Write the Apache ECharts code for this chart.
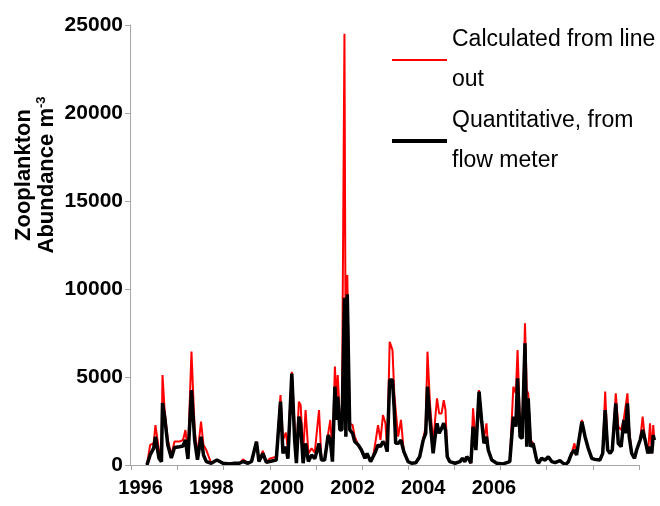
<!DOCTYPE html>
<html>
<head>
<meta charset="utf-8">
<script src="https://cdn.jsdelivr.net/npm/echarts@6/dist/echarts.min.js"></script>
<style>
  html, body { margin: 0; padding: 0; background: #fff; }
  #chart { width: 660px; height: 506px; }
</style>
</head>
<body>
<div id="chart"></div>
<script>
// sample dates (decimal years, as placed against the axis labels)
var years = [
  1996.18, 1996.27, 1996.37, 1996.42, 1996.52, 1996.59, 1996.62, 1996.68, 1996.77, 1996.87,
  1996.96, 1997.10, 1997.20, 1997.27, 1997.34, 1997.44, 1997.53, 1997.61, 1997.71, 1997.78,
  1997.86, 1998.00, 1998.16, 1998.33, 1998.52, 1998.66, 1998.80, 1998.90, 1999.04, 1999.14,
  1999.28, 1999.35, 1999.46, 1999.56, 1999.65, 1999.84, 1999.96, 2000.03, 2000.11, 2000.17,
  2000.28, 2000.36, 2000.41, 2000.48, 2000.53, 2000.60, 2000.67, 2000.75, 2000.84, 2000.93,
  2001.05, 2001.12, 2001.21, 2001.31, 2001.37, 2001.43, 2001.50, 2001.54, 2001.58, 2001.64,
  2001.70, 2001.77, 2001.81, 2001.85, 2001.92, 2002.00, 2002.06, 2002.16, 2002.25, 2002.35,
  2002.41, 2002.51, 2002.58, 2002.65, 2002.72, 2002.79, 2002.86, 2002.93, 2002.98, 2003.05,
  2003.13, 2003.18, 2003.22, 2003.29, 2003.37, 2003.45, 2003.57, 2003.67, 2003.79, 2003.90,
  2004.00, 2004.07, 2004.12, 2004.19, 2004.28, 2004.36, 2004.39, 2004.45, 2004.52, 2004.58,
  2004.63, 2004.68, 2004.75, 2004.90, 2005.04, 2005.11, 2005.18, 2005.23, 2005.30, 2005.35,
  2005.41, 2005.49, 2005.58, 2005.65, 2005.72, 2005.79, 2005.84, 2005.94, 2006.08, 2006.26,
  2006.45, 2006.55, 2006.62, 2006.67, 2006.74, 2006.80, 2006.88, 2006.93, 2006.97, 2007.04,
  2007.11, 2007.21, 2007.26, 2007.35, 2007.45, 2007.54, 2007.64, 2007.73, 2007.87, 2007.96,
  2008.03, 2008.11, 2008.20, 2008.28, 2008.34, 2008.49, 2008.58, 2008.67, 2008.77, 2008.86,
  2009.00, 2009.08, 2009.15, 2009.22, 2009.29, 2009.35, 2009.45, 2009.52, 2009.60, 2009.68,
  2009.73, 2009.78, 2009.83, 2009.90, 2009.98, 2010.04, 2010.14, 2010.21, 2010.28, 2010.36,
  2010.42, 2010.47, 2010.51, 2010.54
];

// Calculated from line out
var lineOut = [
  0, 1140, 1230, 2270, 850, 570, 5110, 3125, 1420, 570,
  1330, 1330, 1420, 1990, 570, 6440, 1990, 570, 2460, 1140,
  850, 100, 280, 100, 100, 100, 100, 320, 100, 200,
  1330, 200, 810, 150, 360, 470, 3980, 1420, 1840, 910,
  5300, 2180, 470, 3600, 3410, 660, 3125, 660, 945, 700,
  3125, 280, 280, 1800, 2560, 660, 5590, 3690, 5110, 2560,
  3000, 24500, 2500, 10800, 2370, 2270, 1610, 1140, 850, 380,
  660, 190, 470, 1330, 2270, 1420, 2840, 2370, 760, 7000,
  6530, 4070, 3125, 1610, 2560, 760, 190, 100, 130, 470,
  1510, 2180, 6440, 3500, 1230, 3125, 3790, 2930, 2930, 3690,
  3125, 470, 190, 100, 190, 380, 190, 470, 300, 100,
  3220, 1230, 4260, 2750, 1500, 2370, 850, 280, 100, 60,
  190, 4450, 4070, 6530, 2200, 1510, 8050, 4260, 4070, 1420,
  1230, 280, 100, 380, 280, 470, 190, 130, 245, 100,
  30, 190, 660, 1230, 570, 2560, 1610, 950, 380, 320,
  280, 660, 4170, 850, 660, 850, 4070, 2180, 1990, 2650,
  2560, 4070, 1990, 660, 380, 850, 1420, 2750, 1420, 660,
  2370, 660, 2270, 1420
];

// Quantitative, from flow meter
var flowMeter = [
  0, 570, 960, 1610, 390, 190, 3520, 2740, 1140, 400,
  1000, 1040, 1080, 1420, 340, 4260, 1420, 300, 1610, 570,
  190, 100, 280, 100, 60, 100, 100, 200, 100, 200,
  1330, 200, 660, 150, 200, 280, 3600, 660, 1040, 360,
  5200, 1420, 100, 2750, 2370, 100, 1230, 200, 570, 360,
  1230, 280, 280, 1700, 1420, 190, 4450, 2560, 3880, 1990,
  2000, 9500, 1600, 9700, 1990, 1800, 1330, 1140, 850, 380,
  660, 190, 470, 760, 1140, 1040, 1330, 1140, 760, 4830,
  4830, 3125, 1230, 1230, 1420, 760, 190, 100, 130, 470,
  1420, 1800, 4450, 2560, 660, 1990, 2370, 1800, 2080, 2370,
  1990, 470, 190, 100, 190, 380, 190, 470, 300, 100,
  2180, 850, 4170, 2560, 1230, 1610, 850, 280, 100, 60,
  190, 2750, 2180, 4920, 1610, 1510, 6910, 1040, 3790, 1040,
  1230, 280, 100, 380, 280, 470, 190, 130, 245, 100,
  30, 190, 660, 850, 570, 2460, 1610, 950, 380, 320,
  280, 660, 3125, 850, 660, 850, 3500, 1230, 1040, 2560,
  1800, 3500, 1610, 660, 380, 850, 1420, 1990, 1420, 660,
  1040, 660, 1700, 1420
];

var seriesNames = ['Calculated from line\nout', 'Quantitative, from\nflow meter'];
var xLabelYears = [1996, 1998, 2000, 2002, 2004, 2006];
var xTickYears = [1995.74, 1997.05, 1998.35, 1999.66, 2000.96, 2002.27, 2003.58, 2004.88, 2006.19, 2007.49, 2008.80, 2010.11];
var xAxisStart = 1995.70;
var xAxisEnd = 2010.11;

var font = "'Liberation Sans', Arial, sans-serif";
var axisGrey = '#a6a6a6';

function pairs(vals) {
  return years.map(function(y, i) { return [y, vals[i]]; });
}

var chart = echarts.init(document.getElementById('chart'), null, { renderer: 'canvas' });
chart.setOption({
  animation: false,
  backgroundColor: '#fff',
  grid: { left: 130, right: 5, top: 25, bottom: 41, containLabel: false, outerBoundsMode: 'none' },
  legend: {
    orient: 'vertical',
    left: 392,
    top: 20,
    padding: 0,
    itemWidth: 55,
    itemHeight: 14,
    itemGap: 1,
    data: [
      { name: seriesNames[0], icon: 'path://M0,0H55V2H0Z', itemStyle: { color: '#ff0000' } },
      { name: seriesNames[1], icon: 'path://M0,0H55V4H0Z', itemStyle: { color: '#000000' } }
    ],
    textStyle: { fontFamily: font, fontSize: 23, lineHeight: 40, color: '#000' }
  },
  xAxis: {
    type: 'value',
    min: xAxisStart,
    max: 2010.56,
    axisLine: { show: false },
    axisTick: { show: true, length: 5, customValues: xTickYears, lineStyle: { color: axisGrey } },
    axisLabel: {
      customValues: xLabelYears,
      margin: 13,
      color: '#000',
      fontFamily: font,
      fontSize: 20,
      fontWeight: 'bold',
      formatter: function(v) { return String(Math.round(v)); }
    },
    splitLine: { show: false }
  },
  yAxis: {
    type: 'value',
    min: 0,
    max: 25000,
    interval: 5000,
    axisLine: { show: true, lineStyle: { color: axisGrey, width: 1 } },
    axisTick: { show: true, length: 5, lineStyle: { color: axisGrey } },
    axisLabel: {
      margin: 7,
      color: '#000',
      fontFamily: font,
      fontSize: 21,
      fontWeight: 'bold',
      formatter: function(v) { return String(v); }
    },
    splitLine: { show: false }
  },
  graphic: [{
    type: 'text',
    x: 35,
    y: 175,
    rotation: Math.PI / 2,
    style: {
      text: '{a|Zooplankton}\n{a|Abundance m}{s|-3}',
      align: 'center',
      verticalAlign: 'middle',
      rich: {
        a: { fontFamily: font, fontSize: 22, fontWeight: 'bold', lineHeight: 23, fill: '#000' },
        s: { fontFamily: font, fontSize: 13, fontWeight: 'bold', lineHeight: 23, verticalAlign: 'top', fill: '#000' }
      }
    }
  }],
  series: [
    {
      name: seriesNames[0],
      type: 'line',
      data: pairs(lineOut),
      symbol: 'none',
      lineStyle: { color: '#ff0000', width: 2 },
      itemStyle: { color: '#ff0000' },
      // x axis baseline ends at the last tick, short of the data
      markLine: {
        silent: true,
        symbol: 'none',
        label: { show: false },
        lineStyle: { color: axisGrey, width: 1, type: 'solid' },
        data: [[{ coord: [xAxisStart, 0] }, { coord: [xAxisEnd, 0] }]]
      }
    },
    {
      name: seriesNames[1],
      type: 'line',
      data: pairs(flowMeter),
      symbol: 'none',
      lineStyle: { color: '#000000', width: 3.5 },
      itemStyle: { color: '#000000' }
    }
  ]
});
</script>
</body>
</html>
